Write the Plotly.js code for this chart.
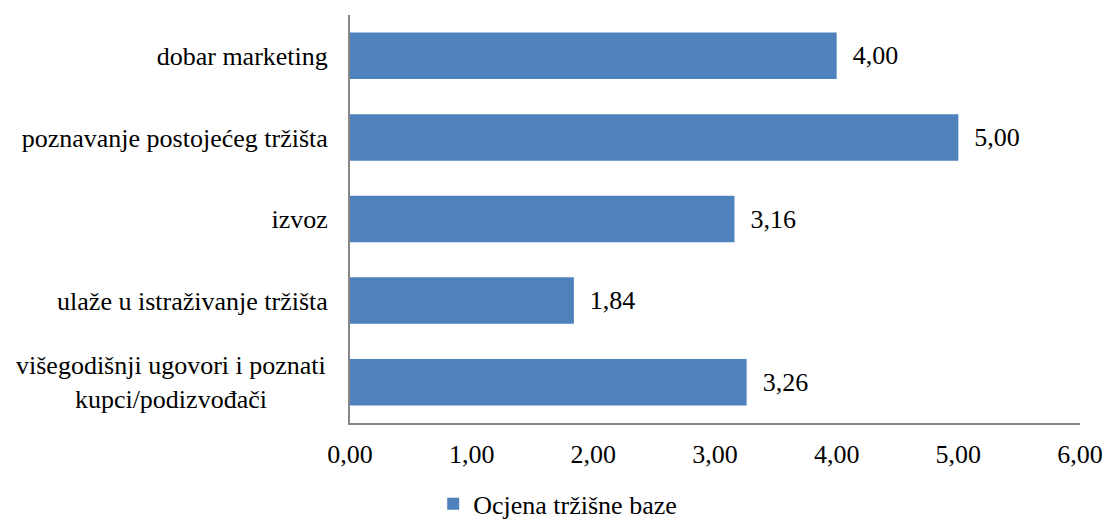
<!DOCTYPE html>
<html>
<head>
<meta charset="utf-8">
<script src="https://cdn.plot.ly/plotly-3.0.1.min.js"></script>
<style>html,body{margin:0;padding:0;background:#fff;}#chart{width:1104px;height:522px;}</style>
</head>
<body>
<div id="chart"></div>
<script>
const categories = [
  "višegodišnji ugovori i poznati<br>kupci/podizvođači",
  "ulaže u istraživanje tržišta",
  "izvoz",
  "poznavanje postojećeg tržišta",
  "dobar marketing"
];
const values = [3.26, 1.84, 3.16, 5.00, 4.00];
const seriesName = "Ocjena tržišne baze";
const xTicks = [0, 1, 2, 3, 4, 5, 6];

const font = {family: "'Liberation Serif', 'Times New Roman', serif", size: 26, color: "#000"};

// single-line categories are drawn as axis tick labels; the wrapped one is drawn centred
const axisCats = categories.filter(c => c.indexOf("<br>") < 0);
const wrappedCats = categories.filter(c => c.indexOf("<br>") >= 0);

Plotly.newPlot("chart", [{
  type: "bar",
  orientation: "h",
  y: categories,
  x: values,
  name: seriesName,
  marker: {color: "#4F81BD"},
  width: 0.57,
  text: values,
  texttemplate: "\u00a0\u00a0%{x:.2f}",
  textposition: "outside",
  textfont: font,
  cliponaxis: false,
  hoverinfo: "none"
}], {
  width: 1104, height: 522,
  margin: {l: 350, r: 24, t: 15, b: 99, autoexpand: false},
  separators: ", ",
  font: font,
  paper_bgcolor: "#fff",
  plot_bgcolor: "#fff",
  showlegend: true,
  xaxis: {
    range: [0, 6],
    tickvals: xTicks,
    tickformat: ".2f",
    showgrid: false,
    zeroline: false,
    showline: true,
    linecolor: "#868686",
    linewidth: 2,
    ticks: "outside",
    ticklen: 7,
    tickcolor: "rgba(0,0,0,0)",
    tickfont: font,
    fixedrange: true
  },
  yaxis: {
    categoryorder: "array",
    categoryarray: categories,
    tickvals: axisCats,
    ticktext: axisCats,
    showgrid: false,
    zeroline: false,
    showline: true,
    linecolor: "#868686",
    linewidth: 2,
    ticks: "outside",
    ticklen: 15,
    tickcolor: "rgba(0,0,0,0)",
    tickfont: font,
    fixedrange: true
  },
  annotations: wrappedCats.map(c => ({
    text: c,
    xref: "paper", x: 0, xanchor: "right", xshift: -22,
    yref: "y", y: c, yanchor: "middle",
    align: "center",
    showarrow: false,
    font: font
  })),
  legend: {
    orientation: "h",
    x: 0.114,
    xanchor: "left",
    y: -0.198,
    yanchor: "middle",
    font: font,
    itemwidth: 30
  },
  bargap: 0.43
}, {displayModeBar: false, staticPlot: true});
</script>
</body>
</html>
